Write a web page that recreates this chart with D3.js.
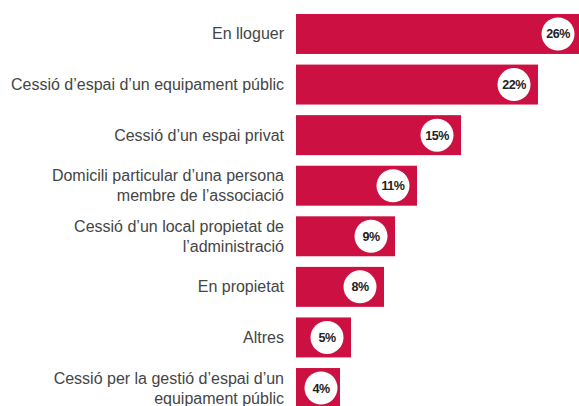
<!DOCTYPE html>
<html>
<head>
<meta charset="utf-8">
<script src="https://cdn.jsdelivr.net/npm/d3@7"></script>
<style>
  html, body { margin: 0; padding: 0; background: #ffffff; }
  svg { display: block; }
</style>
</head>
<body>
<div id="chart"></div>
<script>
// Lloc on l'entitat desenvolupa la seva activitat (%)
const categories = [
  "En lloguer",
  "Cessió d’espai d’un equipament públic",
  "Cessió d’un espai privat",
  "Domicili particular d’una persona\nmembre de l’associació",
  "Cessió d’un local propietat de\nl’administració",
  "En propietat",
  "Altres",
  "Cessió per la gestió d’espai d’un\nequipament públic"
];
const values = [26, 22, 15, 11, 9, 8, 5, 4];
const valueLabels = ["26%", "22%", "15%", "11%", "9%", "8%", "5%", "4%"];

const W = 579, H = 406;
const barColor = "#cc1041";

const svg = d3.select("#chart").append("svg")
  .attr("width", W).attr("height", H);

const x = d3.scaleLinear().domain([0, 26]).range([296, 582]);
const y = d3.scaleBand()
  .domain(categories)
  .range([8.7, 413.3])
  .paddingInner(0.21)
  .paddingOuter(0.105);

const data = categories.map((c, i) => ({ cat: c, v: values[i], label: valueLabels[i] }));

// Bars
svg.append("g").selectAll("rect").data(data).join("rect")
  .attr("x", x(0))
  .attr("y", d => y(d.cat))
  .attr("width", d => x(d.v) - x(0))
  .attr("height", y.bandwidth())
  .attr("fill", barColor);

// Category labels, right aligned next to the bars
const lineH = 20;
const labels = svg.append("g")
  .attr("font-family", "'Liberation Sans', Arial, Helvetica, sans-serif")
  .attr("font-size", 16)
  .attr("fill", "#454545")
  .attr("text-anchor", "end");

data.forEach(d => {
  const lines = d.cat.split("\n");
  const cy = y(d.cat) + y.bandwidth() / 2;
  const first = cy + 5.5 - (lines.length - 1) * lineH / 2;
  const t = labels.append("text");
  lines.forEach((ln, j) => {
    t.append("tspan").attr("x", x(0) - 12).attr("y", first + j * lineH).text(ln);
  });
});

// Value badges
const r = 16.5;
const badges = svg.append("g").selectAll("g").data(data).join("g")
  .attr("transform", d => {
    const cx = Math.max(x(d.v) - 24, x(0) + 25);
    return `translate(${cx},${y(d.cat) + y.bandwidth() / 2})`;
  });

badges.append("circle")
  .attr("r", r)
  .attr("fill", "#ffffff");

badges.append("text")
  .attr("text-anchor", "middle")
  .attr("dy", "0.36em")
  .attr("font-family", "'Liberation Sans', Arial, Helvetica, sans-serif")
  .attr("font-size", 12.5)
  .attr("font-weight", "bold")
  .attr("letter-spacing", "-0.5")
  .attr("fill", "#222222")
  .text(d => d.label);
</script>
</body>
</html>
